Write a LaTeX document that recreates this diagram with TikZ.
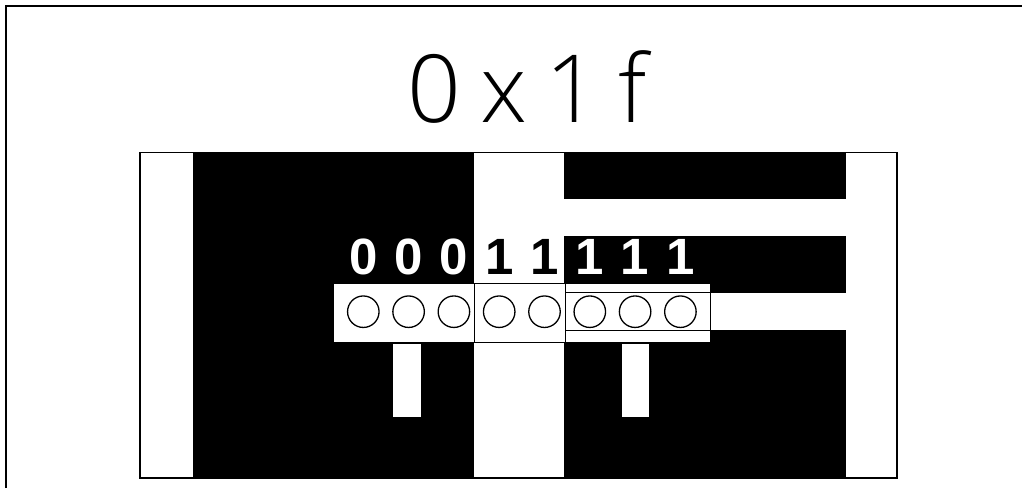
\documentclass[tikz,border=0pt]{standalone}
\usepackage{fontspec}
\setmainfont{Liberation Sans}
\newfontfamily\thinfont{Open Sans Light}
\usetikzlibrary{positioning}
\tikzset{
  cellbox/.style={draw=black,fill=white,line width=1pt},
  hole/.style={circle,draw=black,line width=1.3pt,minimum size=31.5pt,inner sep=0pt},
  bit/.style={font=\fontsize{51}{51}\selectfont\bfseries,anchor=base,inner sep=0pt},
}
\begin{document}
\begin{tikzpicture}[x=1pt,y=-1pt]
\useasboundingbox (0,0) rectangle (1022,488);
\draw[line width=2pt] (5.5,488) -- (5.5,5.5) -- (1022,5.5);
\node[font=\thinfont\fontsize{94}{94}\selectfont\addfontfeature{LetterSpace=20},anchor=base,inner sep=0pt] (title) at (527,122) {0x1f};
% glyph panel
\fill (193,152.5) rectangle (474,478);
\fill (564,152.5) rectangle (846,199);
\fill (564,236) rectangle (846,293);
\fill (564,330) rectangle (846,478);
\draw[line width=1.5pt] (140,152.5) rectangle (897,478);
% bit row
\draw[cellbox] (333,283) rectangle (474,342);
\draw[cellbox] (474,283) rectangle (565,342);
\draw[cellbox] (565,283) rectangle (710,342);
\draw[line width=1pt] (565,292.5) -- (710,292.5) (565,330.5) -- (710,330.5);
\fill[white] (393.3,344) rectangle (421,417.3);
\fill[white] (621.7,344) rectangle (649.3,417.3);
\foreach \b/\c [count=\i from 0] in {0/white,0/white,0/white,1/black,1/black,1/white,1/white,1/white}{
  \node[hole] (h\i) at (363.3+45.3*\i,311.7) {};
  \node[bit,text=\c] (b\i) at (363.3+45.3*\i,274) {\b};
}
\end{tikzpicture}
\end{document}
